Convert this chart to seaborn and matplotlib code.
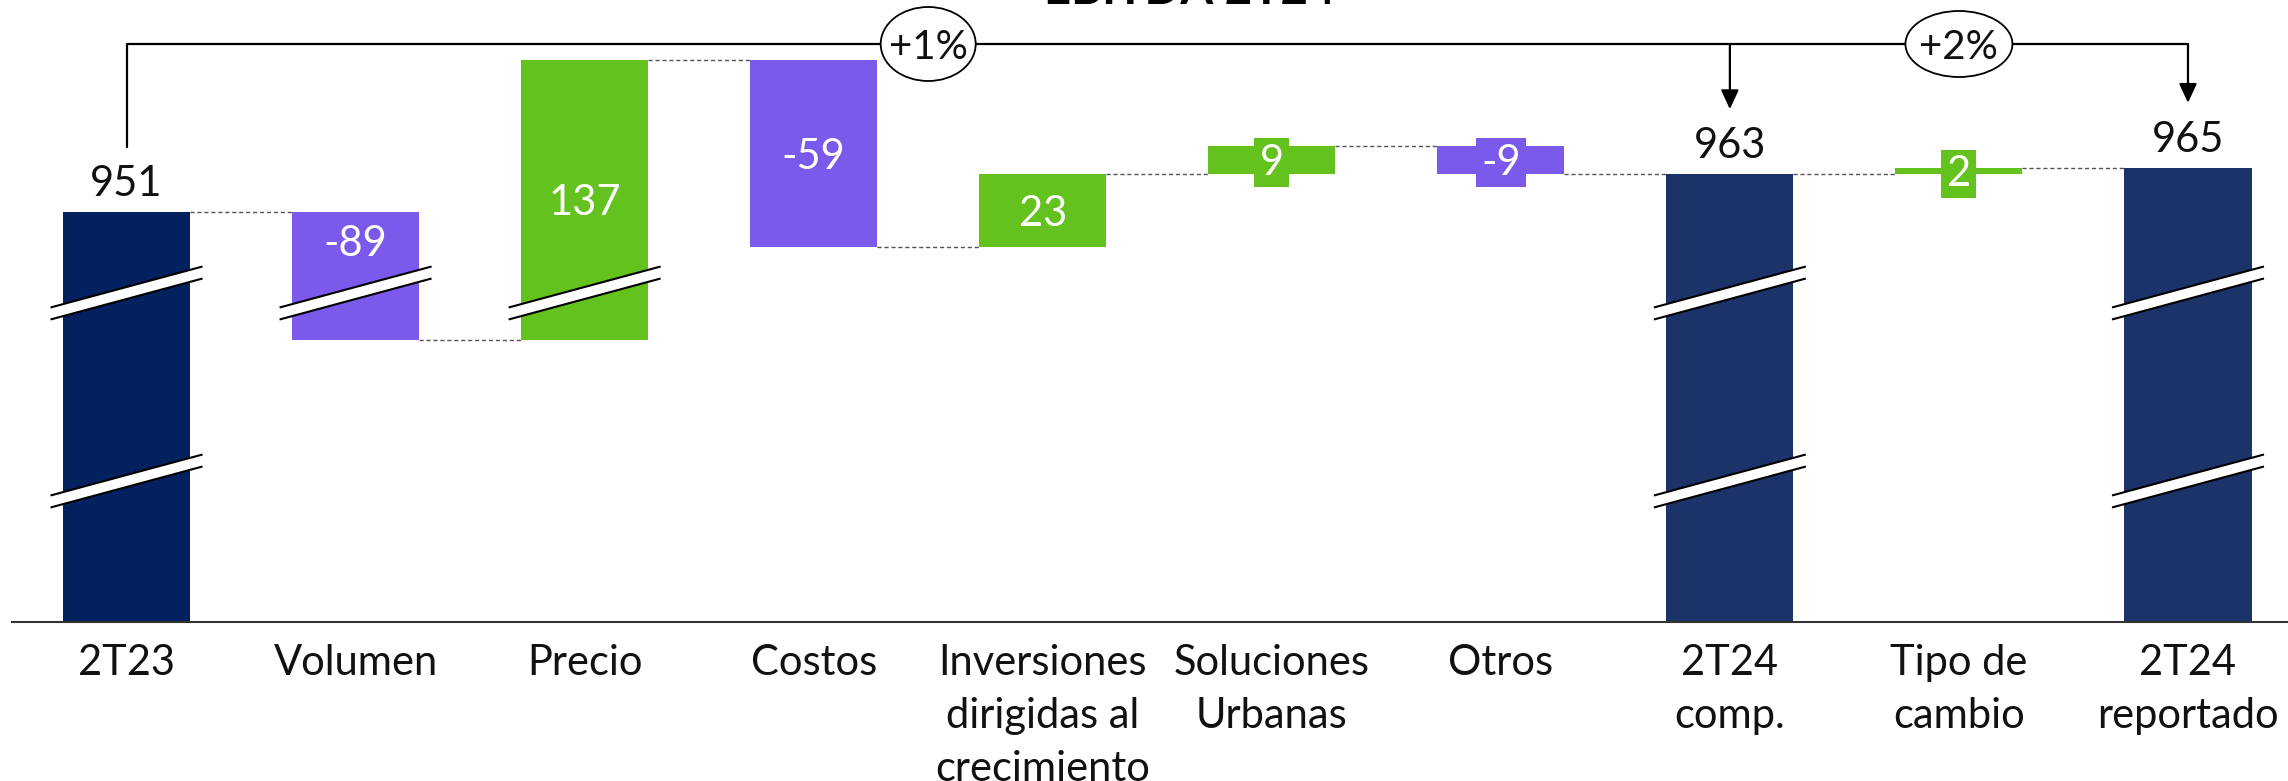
import numpy as np
import pandas as pd
import matplotlib
matplotlib.use("Agg")
import matplotlib.pyplot as plt
import matplotlib.transforms as mtransforms
from matplotlib.patches import Polygon, Ellipse
from matplotlib.lines import Line2D
import seaborn as sns

# ---------------- data ----------------
categories = ["2T23", "Volumen", "Precio", "Costos",
              "Inversiones\ndirigidas al\ncrecimiento", "Soluciones\nUrbanas",
              "Otros", "2T24\ncomp.", "Tipo de\ncambio", "2T24\nreportado"]
values = [951, -89, 137, -59, 23, 9, -9, 963, 2, 965]
kinds = ["total", "delta", "delta", "delta", "delta", "delta", "delta",
         "total", "delta", "total"]
value_labels = ["951", "-89", "137", "-59", "23", "9", "-9", "963", "2", "965"]
growth_labels = ["+1%", "+2%"]
title = "EBITDA 2T24"

# ---------------- style ----------------
NAVY_START = "#03215E"
NAVY_END = "#1B3369"
PURPLE = "#7B5AEB"
GREEN = "#64C21E"

sns.set_theme(style="white")
plt.rcParams["font.family"] = ["Lato", "DejaVu Sans"]
FONT_W = "normal"
FS = 30

W, H, DPI = 2288, 781, 100
fig = plt.figure(figsize=(W / DPI, H / DPI), dpi=DPI)
AX_L, AX_R, AX_TOP, AX_BOT = 12, 2288, 0, 622
ax = fig.add_axes([AX_L / W, (H - AX_BOT) / H, (AX_R - AX_L) / W, (AX_BOT - AX_TOP) / H])
PITCH = 229.05
BAR_W = 0.555

# broken value axis: value -> pixel height above the baseline (piecewise linear)
KV = np.array([-1000.0, 0.0, 862.0, 925.5, 2000.0])
KP = np.array([-327.0, 0.0, 282.0, 329.0, 329.0 + (2000 - 925.5) * 3.17])
BREAKS_PX = [329.0, 141.0]


def fwd(v):
    return np.interp(v, KV, KP)


def inv(p):
    return np.interp(p, KP, KV)


# ---------------- waterfall geometry ----------------
lows, highs, levels, colors = [], [], [], []
running = 0.0
for i, (v, k) in enumerate(zip(values, kinds)):
    if k == "total":
        lo, hi = 0.0, float(v)
        running = float(v)
        colors.append(NAVY_START if i == 0 else NAVY_END)
    else:
        new = running + v
        lo, hi = min(running, new), max(running, new)
        running = new
        colors.append(GREEN if v > 0 else PURPLE)
    lows.append(lo)
    highs.append(hi)
    levels.append(running)

df = pd.DataFrame({"cat": categories, "high": highs})
sns.barplot(data=df, x="cat", y="high", hue="cat", palette=colors, width=BAR_W,
            saturation=1, legend=False, errorbar=None, linewidth=0, ax=ax, zorder=2)

bars = sorted([p for p in ax.patches], key=lambda p: p.get_x())
for p, lo, hi in zip(bars, lows, highs):
    p.set_y(lo)
    p.set_height(hi - lo)

ax.set_yscale("function", functions=(fwd, inv))
ax.set_ylim(0, inv(AX_BOT - AX_TOP))
ax.set_xlim(-0.5, -0.5 + (AX_R - AX_L) / PITCH)

for s in ["top", "right", "left"]:
    ax.spines[s].set_visible(False)
ax.spines["bottom"].set_color("#333333")
ax.spines["bottom"].set_linewidth(1.5)
ax.set_yticks([])
ax.set_xlabel("")
ax.set_ylabel("")
ax.set_xticks(range(len(categories)))
ax.set_xticklabels(categories, fontsize=FS, linespacing=1.48, color="#111111",
                   fontweight=FONT_W)
ax.tick_params(axis="x", length=0, pad=16)

# connectors
n = len(values)
for i in range(n - 1):
    lvl = levels[i]
    ax.plot([i + BAR_W / 2, i + 1 - BAR_W / 2], [lvl, lvl], ls=(0, (3, 2)),
            lw=1.0, color="#555555", zorder=1)

# break marks
SLOPE = 41.0 / 152.0
GAP = 6.0
HW = 127.0 / 2 + 12.5
ident = mtransforms.IdentityTransform()
for i in range(n):
    for bp in BREAKS_PX:
        bv = inv(bp)
        if lows[i] < bv < highs[i]:
            cx, cy = ax.transData.transform((i, bv))
            xs = np.array([cx - HW, cx + HW])
            up = cy + GAP + SLOPE * (xs - cx)
            dn = cy - GAP + SLOPE * (xs - cx)
            poly = Polygon([(xs[0], dn[0]), (xs[1], dn[1]), (xs[1], up[1]), (xs[0], up[0])],
                           closed=True, fc="white", ec="none", transform=ident, zorder=5)
            fig.add_artist(poly)
            for ys in (up, dn):
                fig.add_artist(Line2D(xs, ys, color="black", lw=1.5, transform=ident,
                                      zorder=6, solid_capstyle="butt"))

# value labels
CAP = 0.72 * FS * DPI / 72
for i in range(n):
    if kinds[i] == "total":
        ax.annotate(value_labels[i], xy=(i, highs[i]), xytext=(0, 16),
                    textcoords="offset pixels", ha="center", va="baseline",
                    fontsize=FS, color="#111111", fontweight=FONT_W, zorder=7)
    else:
        plo, phi = fwd(lows[i]), fwd(highs[i])
        cp = (plo + phi) / 2
        for bp in BREAKS_PX:
            if plo < bp < phi and abs(cp - bp) < 45:
                cp = (bp + GAP + SLOPE * HW * 0.84 + phi) / 2
        ax.annotate(value_labels[i], xy=(i, inv(cp)), xytext=(0, -CAP / 2),
                    textcoords="offset pixels", ha="center", va="baseline",
                    fontsize=FS, color="white", fontweight=FONT_W, zorder=7,
                    bbox=dict(boxstyle="square,pad=0.13", fc=colors[i], ec="none"))

# growth bracket
BR_PX = (AX_BOT - AX_TOP) - 44
br_v = inv(BR_PX)
first, comp, last = 0, 7, 9
ax.plot([first, last], [br_v, br_v], color="black", lw=1.6, zorder=3,
        solid_capstyle="butt", clip_on=False)
ax.plot([first, first], [br_v, inv(fwd(highs[first]) + 65)], color="black", lw=1.6,
        zorder=3, clip_on=False)
for j in (comp, last):
    ax.annotate("", xy=(j, inv(fwd(highs[j]) + 65)), xytext=(j, br_v),
                arrowprops=dict(arrowstyle="-|>,head_length=0.58,head_width=0.27",
                                mutation_scale=20, lw=1.6, color="black",
                                shrinkA=0, shrinkB=0), zorder=3)

GFS = 29
GCAP = 0.72 * GFS * DPI / 72
for (xc, lab, ew, eh) in [((first + comp) / 2, growth_labels[0], 95, 74),
                          ((comp + last) / 2, growth_labels[1], 107, 66)]:
    cx, cy = ax.transData.transform((xc, br_v))
    fig.add_artist(Ellipse((cx, cy), ew, eh, fc="white", ec="black", lw=1.3,
                           transform=ident, zorder=8))
    fig.text(cx / W, (cy - GCAP / 2) / H, lab, ha="center", va="baseline",
             fontsize=GFS, color="#111111", fontweight=FONT_W, zorder=9)

# title (mostly cropped at the top edge)
fig.text(1190 / W, (H - 4) / H, title, ha="center", va="baseline", fontsize=34,
         fontweight="bold", color="black")

fig.savefig("out.png", dpi=DPI)
